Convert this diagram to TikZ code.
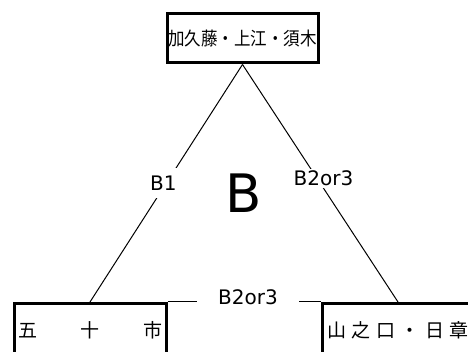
\documentclass[tikz,border=0pt]{standalone}
\usepackage{fontspec}
\setmainfont{DejaVu Sans}
\newfontfamily\jpfont{Noto Sans CJK JP}
\newcommand\spch[1]{\makebox[24.4pt][l]{#1}}
\begin{document}
\begin{tikzpicture}[x=1pt,y=-1pt,
  box/.style={draw, line width=3pt, inner sep=0pt, font=\jpfont\fontsize{16.5}{20}\selectfont},
  bigjp/.style={font=\jpfont\fontsize{19}{22}\selectfont},
  lbl/.style={fill=white, inner sep=1pt, font=\fontsize{20}{24}\selectfont},
  edge/.style={line width=1pt}]
\useasboundingbox (0,0) rectangle (468,352);
\clip (0,0) rectangle (468,352);
\node[box, minimum width=151pt, minimum height=49pt] (top) at (242.5,38.5) {\scalebox{1}[1.12]{加久藤・上江・須木}};
\node[box, bigjp, anchor=north west, minimum width=152.2pt, minimum height=53pt] (lbox) at (12.5,302) {\hbox to 144pt{五\hfill 十\hfill 市}};
\node[box, bigjp, anchor=north west, minimum width=200pt, minimum height=53pt] (rbox) at (321,302) {\hbox to 190pt{\spch{山}\spch{之}\spch{口}\spch{・}\spch{日}\spch{章}\hfill}};
\coordinate (lend) at (90,302);
\coordinate (rend) at (398,302);
\draw[edge] (top.south) -- node[lbl, pos=0.5, xshift=-3pt, inner ysep=7.7pt] {B1} (lend);
\draw[edge] (top.south) -- node[lbl, pos=0.479, xshift=6.5pt, inner ysep=1.7pt] {B2or3} (rend);
\draw[edge] (lbox.north east) -- node[lbl, xshift=3.6pt, yshift=4.5pt, inner xsep=21.5pt, inner ysep=2pt] {B2or3} (rbox.north west);
\node[font=\fontsize{53}{60}\selectfont] (bigB) at (244,193) {B};
\end{tikzpicture}
\end{document}
